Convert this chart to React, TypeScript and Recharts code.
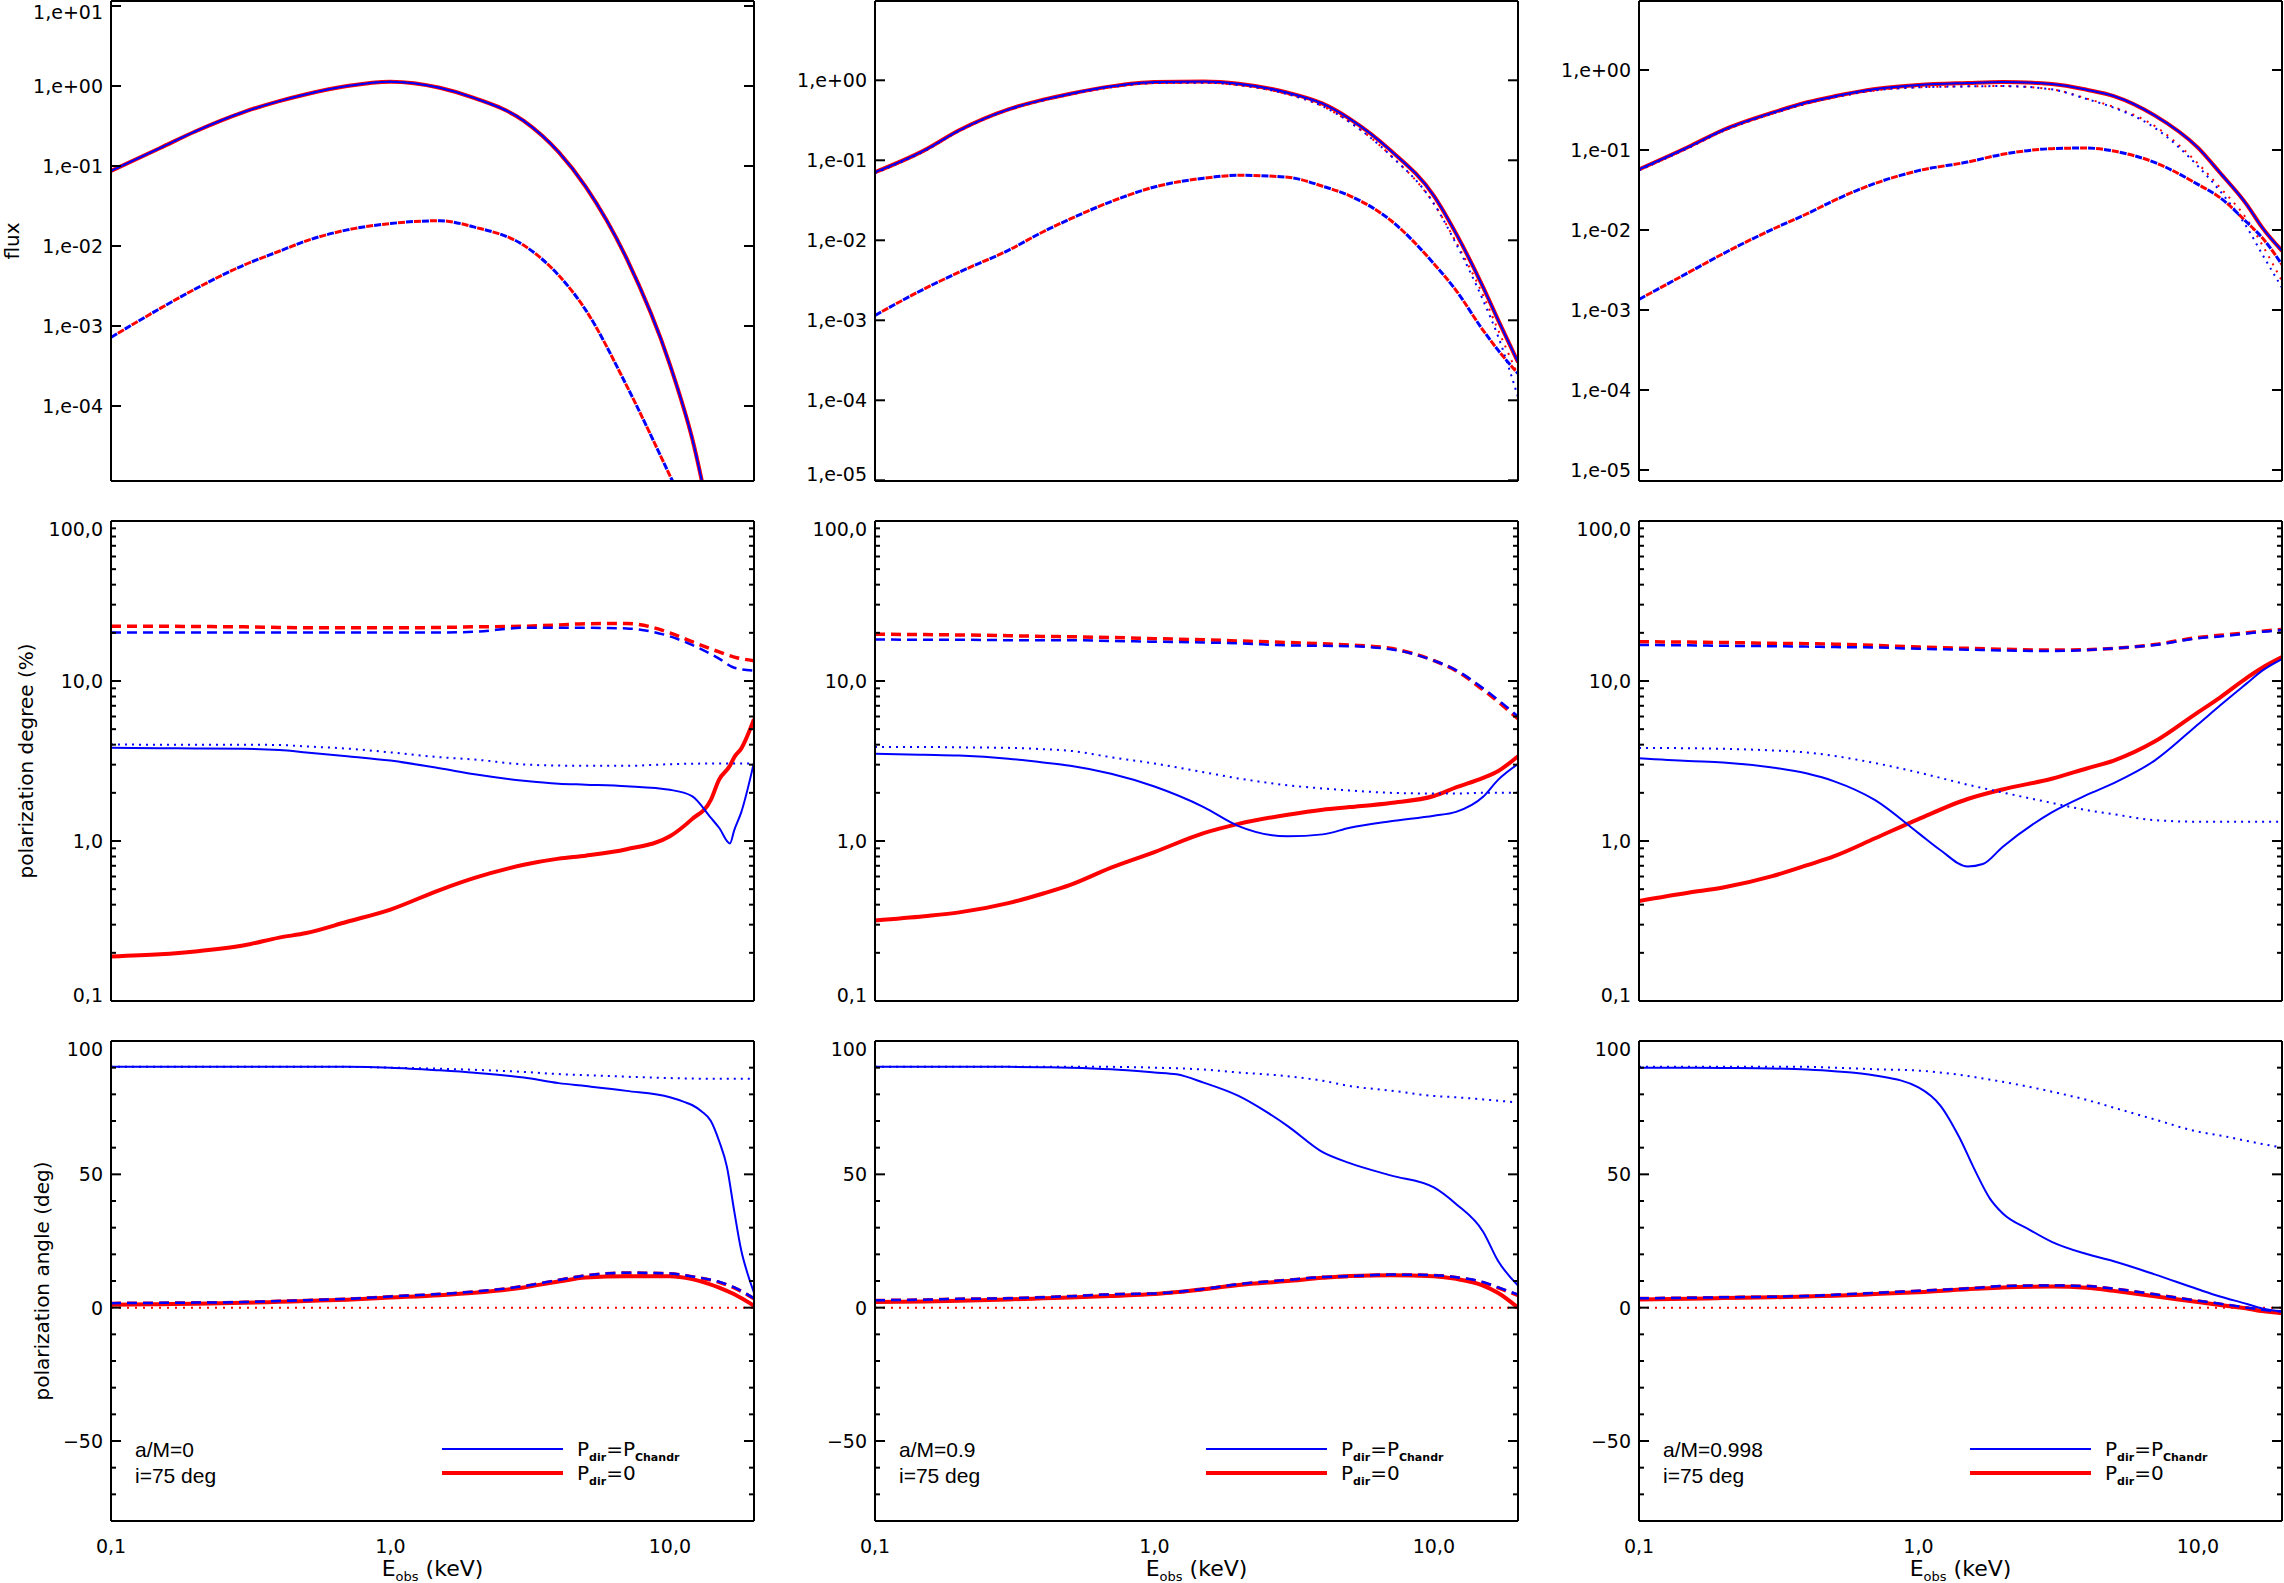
import React from 'react';
import { LineChart, Line, XAxis, YAxis, Legend } from 'recharts';

const FONT = '"DejaVu Sans", Verdana, sans-serif';
const SANS = '"Liberation Sans", Arial, Helvetica, sans-serif';
const BLUE = '#0000ff';
const RED = '#ff0000';

// ---------- energy grids (keV) ----------
const E_BASE = [0.1, 0.15, 0.2, 0.3, 0.4, 0.5, 0.7, 1, 1.5, 2, 3, 4, 5, 7, 10, 12, 15, 17, 20];
const E_PD1 = [0.1, 0.15, 0.2, 0.3, 0.4, 0.5, 0.7, 1, 1.5, 2, 3, 4, 5, 7, 10, 12, 14, 15, 16.4, 17, 18, 20];
const E_PD3 = [0.1, 0.15, 0.2, 0.3, 0.4, 0.5, 0.7, 1, 1.2, 1.5, 1.7, 2, 3, 4, 5, 7, 10, 12, 15, 17, 20];
const E_PA1 = [0.1, 0.15, 0.2, 0.3, 0.4, 0.5, 0.7, 1, 1.5, 2, 3, 4, 5, 7, 10, 11.3, 12, 13, 14, 15, 16, 17, 18, 19, 20];
const E_PA2 = [0.1, 0.15, 0.2, 0.3, 0.4, 0.5, 0.7, 1, 1.2, 1.5, 2, 2.5, 3, 4, 5, 7, 10, 12, 15, 17, 20];
const E_PA3 = [0.1, 0.15, 0.2, 0.3, 0.4, 0.5, 0.7, 1, 1.2, 1.4, 1.6, 1.8, 2, 2.5, 3, 4, 5, 7, 10, 12, 15, 17, 20];

// ---------- flux ----------
const FLUX1_TOTAL = [0.087, 0.168, 0.27, 0.476, 0.647, 0.79, 1.0, 1.13, 0.95, 0.705, 0.367, 0.149, 0.055, 7.0e-3, 3.3e-4, 4.0e-5, 1e-6, 1e-7, 1e-8];
const FLUX1_REFL = [7.2e-4, 1.66e-3, 2.9e-3, 5.8e-3, 8.6e-3, 0.0116, 0.0159, 0.0191, 0.0207, 0.0172, 0.0102, 4.3e-3, 1.58e-3, 1.8e-4, 1.35e-5, 3.5e-6, 1e-7, 1e-8, 1e-9];

const FLUX2_TOTAL = [0.071, 0.133, 0.237, 0.433, 0.573, 0.68, 0.84, 0.953, 0.968, 0.906, 0.70, 0.51, 0.33, 0.133, 0.036, 0.0122, 2.6e-3, 1.0e-3, 3.0e-4];
const FLUX2_DIRECT_P = [0.069, 0.13, 0.232, 0.425, 0.56, 0.665, 0.82, 0.925, 0.935, 0.87, 0.67, 0.474, 0.30, 0.115, 0.0287, 9.1e-3, 1.78e-3, 6.2e-4, 1.1e-4];
const FLUX2_DIRECT_Z = [0.069, 0.13, 0.232, 0.425, 0.56, 0.665, 0.82, 0.925, 0.935, 0.87, 0.67, 0.474, 0.30, 0.115, 0.0287, 9.5e-3, 2.06e-3, 7.5e-4, 2.06e-4];
const FLUX2_REFL = [1.15e-3, 2.47e-3, 4.0e-3, 7.5e-3, 0.0128, 0.0185, 0.0305, 0.0464, 0.0597, 0.0649, 0.0614, 0.0474, 0.036, 0.0178, 5.1e-3, 2.37e-3, 7.5e-4, 4.2e-4, 2.16e-4];

const FLUX3_TOTAL = [0.0573, 0.109, 0.178, 0.293, 0.395, 0.469, 0.579, 0.65, 0.688, 0.708, 0.668, 0.567, 0.473, 0.271, 0.107, 0.052, 0.0205, 0.0107, 5.5e-3];
const FLUX3_DIRECT_P = [0.0556, 0.106, 0.173, 0.284, 0.383, 0.455, 0.557, 0.607, 0.625, 0.63, 0.573, 0.434, 0.338, 0.19, 0.063, 0.0307, 0.0107, 4.97e-3, 1.9e-3];
const FLUX3_DIRECT_Z = [0.0556, 0.106, 0.173, 0.284, 0.383, 0.455, 0.557, 0.607, 0.625, 0.63, 0.573, 0.44, 0.345, 0.2, 0.068, 0.034, 0.0135, 6.5e-3, 2.3e-3];
const FLUX3_REFL = [1.36e-3, 2.93e-3, 5.06e-3, 0.0102, 0.016, 0.0235, 0.0383, 0.0552, 0.0708, 0.0883, 0.104, 0.106, 0.097, 0.070, 0.0372, 0.0254, 0.0124, 8.0e-3, 3.7e-3];

// ---------- polarization degree (%) ----------
const PD1_REFL_Z = [22.0, 22.0, 21.9, 21.8, 21.6, 21.5, 21.5, 21.5, 21.6, 21.8, 22.0, 22.4, 22.8, 22.9, 20.0, 17.6, null, 15.2, null, 14.1, null, 13.4];
const PD1_REFL_P = [20.1, 20.1, 20.1, 20.1, 20.1, 20.1, 20.1, 20.1, 20.1, 20.3, 21.5, 21.5, 21.5, 21.3, 19.0, 16.8, null, 13.8, null, 12.1, null, 11.6];
const PD1_TOTAL_P = [3.82, 3.80, 3.79, 3.77, 3.70, 3.58, 3.39, 3.18, 2.85, 2.61, 2.38, 2.28, 2.25, 2.20, 2.09, 1.91, 1.40, 1.21, 0.966, 1.17, 1.51, 3.1];
const PD1_DIRECT_P = [4.01, 4.0, 4.0, 4.0, 3.98, 3.9, 3.78, 3.58, 3.34, 3.23, 3.01, 2.96, 2.95, 2.95, 3.02, null, null, 3.05, null, null, null, 3.05];
const PD1_TOTAL_Z = [0.19, 0.196, 0.204, 0.223, 0.249, 0.266, 0.313, 0.373, 0.494, 0.588, 0.71, 0.776, 0.81, 0.888, 1.07, 1.37, 1.8, 2.42, 2.95, 3.34, 3.78, 5.77];

const PD2_REFL_Z = [19.6, 19.5, 19.4, 19.2, 19.0, 18.9, 18.7, 18.4, 18.1, 17.8, 17.4, 17.1, 16.8, 16.0, 13.4, 11.6, 8.8, 7.4, 5.8];
const PD2_REFL_P = [18.2, 18.1, 18.1, 18.0, 18.0, 18.0, 17.8, 17.6, 17.4, 17.2, 16.7, 16.6, 16.5, 15.8, 13.4, 11.7, 9.0, 7.6, 6.0];
const PD2_TOTAL_P = [3.51, 3.46, 3.42, 3.27, 3.10, 2.95, 2.63, 2.19, 1.63, 1.24, 1.07, 1.10, 1.21, 1.33, 1.44, 1.52, 1.89, 2.42, 3.03];
const PD2_DIRECT_P = [3.87, 3.87, 3.85, 3.82, 3.75, 3.66, 3.34, 3.05, 2.69, 2.46, 2.23, 2.13, 2.07, 2.0, 1.98, 1.98, 2.0, 2.0, 2.0];
const PD2_TOTAL_Z = [0.319, 0.339, 0.358, 0.409, 0.47, 0.532, 0.682, 0.853, 1.12, 1.28, 1.46, 1.57, 1.63, 1.73, 1.91, 2.16, 2.48, 2.74, 3.39];

const PD3_REFL_Z = [17.6, 17.5, 17.4, 17.2, 17.1, 17.0, 16.7, 16.3, null, 16.0, null, 15.8, 15.6, 15.7, 16.0, 16.9, 18.7, 19.3, 20.0, 20.5, 21.0];
const PD3_REFL_P = [16.8, 16.7, 16.6, 16.5, 16.4, 16.3, 16.2, 15.9, null, 15.7, null, 15.5, 15.4, 15.6, 16.0, 16.8, 18.5, 19.0, 19.8, 20.3, 20.8];
const PD3_TOTAL_P = [3.29, 3.16, 3.10, 2.88, 2.64, 2.36, 1.80, 1.12, 0.875, 0.693, 0.718, 0.918, 1.51, 1.94, 2.30, 3.18, 5.35, 7.03, 9.7, 11.6, 13.7];
const PD3_DIRECT_P = [3.82, 3.80, 3.77, 3.68, 3.57, 3.40, 3.07, 2.68, null, 2.25, null, 2.01, 1.73, 1.56, 1.47, 1.35, 1.32, 1.32, 1.32, 1.32, 1.32];
const PD3_TOTAL_Z = [0.422, 0.475, 0.512, 0.603, 0.706, 0.804, 1.04, 1.37, null, 1.83, null, 2.10, 2.45, 2.84, 3.18, 4.18, 6.37, 7.88, 10.5, 12.1, 14.1];

// ---------- polarization angle (deg) ----------
const PA1_TOTAL_P = [90.3, 90.3, 90.3, 90.3, 90.3, 90.3, 90.3, 90.0, 89.0, 88.1, 86.3, 84.2, 83.1, 81.3, 78.9, 77.1, 76.0, 73.6, 70.1, 62.5, 52.8, 36.1, 21.5, 12.5, 5.6];
const PA1_DIRECT_P = [90.3, 90.3, 90.3, 90.3, 90.3, 90.3, 90.3, 90.0, 89.6, 89.2, 88.4, 87.6, 87.2, 86.6, 86.1, null, null, null, null, 85.8, null, null, null, null, 85.8];
const PA1_REFL_P = [1.7, 1.8, 1.9, 2.1, 2.5, 2.8, 3.3, 4.2, 5.1, 6.0, 8.1, 10.4, 12.1, 13.1, 12.8, null, 11.7, null, null, 9.7, null, 7.6, null, null, 3.5];
const PA1_REFL_Z = [1.6, 1.7, 1.8, 2.0, 2.4, 2.7, 3.2, 4.1, 5.0, 5.9, 8.0, 10.3, 12.0, 13.0, 12.7, null, 11.6, null, null, 9.5, null, 7.4, null, null, 3.3];
const PA1_TOTAL_Z = [1.1, 1.3, 1.5, 1.8, 2.2, 2.5, 3.0, 3.8, 4.7, 5.6, 7.6, 9.8, 11.3, 11.8, 11.8, null, 10.7, null, null, 7.5, null, 5.0, null, null, 0.7];
const PA1_DIRECT_Z = [0, 0, 0, 0, 0, 0, 0, 0, 0, 0, 0, 0, 0, 0, 0, 0, 0, 0, 0, 0, 0, 0, 0, 0, 0];

const PA2_TOTAL_P = [90.3, 90.3, 90.3, 90.3, 90.2, 90.0, 89.4, 88.2, 87.5, 84.4, 79.4, 73.6, 68.1, 58.3, 54.2, 49.6, 45.1, 38.9, 28.5, 17.4, 8.3];
const PA2_DIRECT_P = [90.3, 90.3, 90.3, 90.3, 90.3, 90.3, 90.3, 90.0, null, 89.3, 88.2, null, 86.8, 85.1, 83.1, 81.4, 79.4, 78.9, 78.1, 77.6, 76.9];
const PA2_REFL_P = [2.8, 3.0, 3.3, 3.5, 3.9, 4.3, 5.0, 5.3, null, 7.0, 8.8, null, 10.4, 11.5, 11.8, 12.4, 12.2, 11.4, 9.6, 7.6, 4.9];
const PA2_REFL_Z = [2.7, 2.9, 3.2, 3.4, 3.8, 4.2, 4.9, 5.2, null, 6.9, 8.7, null, 10.3, 11.4, 11.7, 12.3, 12.1, 11.3, 9.4, 7.4, 4.6];
const PA2_TOTAL_Z = [2.1, 2.3, 2.6, 3.1, 3.5, 3.8, 4.4, 5.1, null, 6.9, 8.5, null, 10.0, 11.2, 11.9, 12.2, 11.8, 10.8, 8.3, 5.5, 0.0];
const PA2_DIRECT_Z = [0, 0, 0, 0, 0, 0, 0, 0, 0, 0, 0, 0, 0, 0, 0, 0, 0, 0, 0, 0, 0];

const PA3_TOTAL_P = [90.0, 90.0, 89.9, 89.7, 89.3, 88.7, 87.1, 82.6, 75.7, 63.9, 51.1, 41.0, 35.4, 29.2, 24.7, 20.1, 17.4, 12.5, 6.9, 4.2, 1.4, -0.3, -1.4];
const PA3_DIRECT_P = [90.3, 90.3, 90.3, 90.3, 90.3, 90.0, 89.4, 88.9, null, null, null, null, 84.7, null, 81.0, 77.9, 75.0, 70.6, 66.0, 64.6, 62.5, 61.4, 60.0];
const PA3_REFL_P = [3.5, 3.7, 3.9, 4.1, 4.4, 4.8, 5.5, 6.3, null, null, 7.4, null, 8.1, null, 8.3, 8.1, 7.1, 5.0, 2.6, 1.5, 0.0, -0.8, -1.4];
const PA3_REFL_Z = [3.4, 3.6, 3.8, 4.0, 4.3, 4.7, 5.4, 6.2, null, null, 7.3, null, 8.0, null, 8.2, 8.0, 7.0, 4.9, 2.5, 1.3, -0.2, -1.0, -1.7];
const PA3_TOTAL_Z = [3.1, 3.3, 3.6, 3.9, 4.2, 4.5, 5.1, 5.8, null, null, 7.1, null, 7.6, null, 7.9, 7.5, 6.3, 4.3, 2.1, 1.0, -0.3, -1.3, -2.1];
const PA3_DIRECT_Z = [0, 0, 0, 0, 0, 0, 0, 0, 0, 0, 0, 0, 0, 0, 0, 0, 0, 0, 0, 0, 0, 0, 0];

// ---------- ticks & labels ----------
const X_TICKS = [0.1, 0.2, 0.3, 0.4, 0.5, 0.6, 0.7, 0.8, 0.9, 1, 2, 3, 4, 5, 6, 7, 8, 9, 10];
const X_MAJOR = [0.1, 1, 10];
const X_LABELS = ['0,1', '1,0', '10,0'];

const FLUX_MAJOR = [1e-5, 1e-4, 1e-3, 1e-2, 1e-1, 1, 10];
const FLUX_LABELS = ['1,e-05', '1,e-04', '1,e-03', '1,e-02', '1,e-01', '1,e+00', '1,e+01'];

const PD_MAJOR = [0.1, 1, 10, 100];
const PD_LABELS = ['0,1', '1,0', '10,0', '100,0'];
const PD_MINOR = [0.2, 0.3, 0.4, 0.5, 0.6, 0.7, 0.8, 0.9, 2, 3, 4, 5, 6, 7, 8, 9, 20, 30, 40, 50, 60, 70, 80, 90];

const PA_MAJOR = [-50, 0, 50, 100];
const PA_LABELS = ['\u221250', '0', '50', '100'];
const PA_MINOR = [-70, -60, -40, -30, -20, -10, 10, 20, 30, 40, 60, 70, 80, 90];

const SPIN_LABELS = ['a/M=0', 'a/M=0.9', 'a/M=0.998'];
const INCL_LABEL = 'i=75 deg';
const Y_TITLES = ['flux', 'polarization degree (%)', 'polarization angle (deg)'];
const Y_TITLE_X = [12, 26, 42];

// ---------- layout ----------
const COL_LEFT = [111, 875, 1639];
const ROW_TOP = [1, 521, 1041];
const PW = 643;
const PH = 480;
const YW = 111;

const ROLES = ['reflZ', 'directZ', 'totalZ', 'reflP', 'directP', 'totalP'];
const STYLES: Record<string, any> = {
  reflZ: { stroke: RED, width: 3.5, dash: '10 6' },
  directZ: { stroke: RED, width: 2, dash: '2 6' },
  totalZ: { stroke: RED, width: 4 },
  reflP: { stroke: BLUE, width: 2.5, dash: '10 6' },
  directP: { stroke: BLUE, width: 2, dash: '2 5' },
  totalP: { stroke: BLUE, width: 2 },
};
// in the flux panels the two reflected curves coincide: their dashes interleave
const FLUX_STYLE_OVERRIDE: Record<string, any> = {
  reflZ: { stroke: RED, width: 3, dash: '7 9', offset: 8 },
  reflP: { stroke: BLUE, width: 3, dash: '7 9' },
};

const PANELS: any[][] = [
  [
    { kind: 'flux', E: E_BASE, domain: [1.155e-5, 11.55], s: { reflZ: FLUX1_REFL, directZ: FLUX1_TOTAL, totalZ: FLUX1_TOTAL, reflP: FLUX1_REFL, directP: FLUX1_TOTAL, totalP: FLUX1_TOTAL } },
    { kind: 'flux', E: E_BASE, domain: [0.98e-5, 9.8], s: { reflZ: FLUX2_REFL, directZ: FLUX2_DIRECT_Z, totalZ: FLUX2_TOTAL, reflP: FLUX2_REFL, directP: FLUX2_DIRECT_P, totalP: FLUX2_TOTAL } },
    { kind: 'flux', E: E_BASE, domain: [0.729e-5, 7.29], s: { reflZ: FLUX3_REFL, directZ: FLUX3_DIRECT_Z, totalZ: FLUX3_TOTAL, reflP: FLUX3_REFL, directP: FLUX3_DIRECT_P, totalP: FLUX3_TOTAL } },
  ],
  [
    { kind: 'pd', E: E_PD1, domain: [0.1, 100], s: { reflZ: PD1_REFL_Z, totalZ: PD1_TOTAL_Z, reflP: PD1_REFL_P, directP: PD1_DIRECT_P, totalP: PD1_TOTAL_P } },
    { kind: 'pd', E: E_BASE, domain: [0.1, 100], s: { reflZ: PD2_REFL_Z, totalZ: PD2_TOTAL_Z, reflP: PD2_REFL_P, directP: PD2_DIRECT_P, totalP: PD2_TOTAL_P } },
    { kind: 'pd', E: E_PD3, domain: [0.1, 100], s: { reflZ: PD3_REFL_Z, totalZ: PD3_TOTAL_Z, reflP: PD3_REFL_P, directP: PD3_DIRECT_P, totalP: PD3_TOTAL_P } },
  ],
  [
    { kind: 'pa', E: E_PA1, domain: [-80, 100], s: { reflZ: PA1_REFL_Z, directZ: PA1_DIRECT_Z, totalZ: PA1_TOTAL_Z, reflP: PA1_REFL_P, directP: PA1_DIRECT_P, totalP: PA1_TOTAL_P } },
    { kind: 'pa', E: E_PA2, domain: [-80, 100], s: { reflZ: PA2_REFL_Z, directZ: PA2_DIRECT_Z, totalZ: PA2_TOTAL_Z, reflP: PA2_REFL_P, directP: PA2_DIRECT_P, totalP: PA2_TOTAL_P } },
    { kind: 'pa', E: E_PA3, domain: [-80, 100], s: { reflZ: PA3_REFL_Z, directZ: PA3_DIRECT_Z, totalZ: PA3_TOTAL_Z, reflP: PA3_REFL_P, directP: PA3_DIRECT_P, totalP: PA3_TOTAL_P } },
  ],
];

const isIn = (arr: number[], v: number) => arr.some((m) => Math.abs(m - v) <= Math.abs(m) * 1e-6 + 1e-9);

function makeTick(side: string, majors: number[]) {
  return (props: any) => {
    const { x, y, payload } = props;
    const len = isIn(majors, payload.value) ? 10 : 5;
    let x2 = x;
    let y2 = y;
    if (side === 'left') x2 = x + len;
    else if (side === 'right') x2 = x - len;
    else if (side === 'top') y2 = y + len;
    else y2 = y - len;
    return <line x1={x} y1={y} x2={x2} y2={y2} stroke="#000" strokeWidth={2} />;
  };
}

function makeFormatter(values: number[], labels: string[]) {
  return (v: number) => {
    const i = values.findIndex((m) => Math.abs(m - v) <= Math.abs(m) * 1e-6 + 1e-9);
    return i >= 0 ? labels[i] : '';
  };
}

// y tick labels: centred on the tick, kept inside the frame's height near its edges
function makeLabelTick(fmt: (v: number) => string, top: number, bottom: number) {
  return (props: any) => {
    const { x, y, payload } = props;
    let ty = y;
    if (Math.abs(y - top) < 1.5) ty = y + 8;
    else if (Math.abs(y - bottom) < 3) ty = y - 6;
    if (ty < 12) ty = 12;
    return (
      <text x={x} y={ty} textAnchor="end" dominantBaseline="central" fontFamily={FONT} fontSize={19} fill="#000">
        {fmt(payload.value)}
      </text>
    );
  };
}

const VTitle = (props: any) => {
  const { text, cx, cy } = props;
  return (
    <text x={cx} y={cy} transform={`rotate(-90 ${cx} ${cy})`} textAnchor="middle" dominantBaseline="central" fontFamily={FONT} fontSize={20} fill="#000">
      {text}
    </text>
  );
};

const XTitle = (props: any) => {
  const { cx, by } = props;
  return (
    <text x={cx} y={by} textAnchor="middle" fontFamily={FONT} fontSize={22} fill="#000">
      E<tspan fontSize={13} dy={5}>obs</tspan>
      <tspan dy={-5}>{'\u00a0(keV)'}</tspan>
    </text>
  );
};

const LegendArt = ({ spin, W, H }: any) => (
  <svg width={W} height={H} style={{ position: 'absolute', left: 0, top: 0, overflow: 'visible' }}>
    <text x={135} y={424} fontFamily={SANS} fontSize={21} fill="#000">{spin}</text>
    <text x={135} y={450} fontFamily={SANS} fontSize={21} fill="#000">{INCL_LABEL}</text>
    <line x1={442} y1={416} x2={563} y2={416} stroke={BLUE} strokeWidth={2} />
    <line x1={442} y1={440} x2={563} y2={440} stroke={RED} strokeWidth={4} />
    <text x={577} y={423} fontFamily={FONT} fontSize={20} fill="#000">
      P<tspan fontSize={11} fontWeight="bold" dy={5}>dir</tspan>
      <tspan dy={-5}>=P</tspan>
      <tspan fontSize={11} fontWeight="bold" dy={5}>Chandr</tspan>
    </text>
    <text x={577} y={447} fontFamily={FONT} fontSize={20} fill="#000">
      P<tspan fontSize={11} fontWeight="bold" dy={5}>dir</tspan>
      <tspan dy={-5}>=0</tspan>
    </text>
  </svg>
);

function Panel({ def, row, col }: any) {
  const mt = row === 0 ? 1 : 8;
  const mb = row === 2 ? 0 : 16;
  const xh = row === 2 ? 62 : 0;
  const W = YW + PW + 2;
  const H = mt + PH + mb + xh;
  const isLog = def.kind !== 'pa';
  const [lo, hi] = def.domain;
  const inDom = (t: number) => t >= lo * (1 - 1e-9) && t <= hi * (1 + 1e-9);

  let majors: number[];
  let labels: string[];
  let minors: number[];
  if (def.kind === 'flux') {
    majors = FLUX_MAJOR; labels = FLUX_LABELS; minors = [];
  } else if (def.kind === 'pd') {
    majors = PD_MAJOR; labels = PD_LABELS; minors = PD_MINOR;
  } else {
    majors = PA_MAJOR; labels = PA_LABELS; minors = PA_MINOR;
  }
  const yMajors = majors.filter(inDom);
  const yAll = [...majors, ...minors].filter(inDom).sort((a, b) => a - b);
  const fmtY = makeFormatter(majors, labels);

  const data = def.E.map((e: number, i: number) => {
    const o: any = { E: e };
    ROLES.forEach((r) => {
      const arr = def.s[r];
      o[r] = arr ? arr[i] : null;
    });
    return o;
  });

  const yScale = isLog ? 'log' : 'linear';
  const axisLine = { stroke: '#000', strokeWidth: 2 };

  return (
    <div style={{ position: 'absolute', left: COL_LEFT[col] - YW, top: ROW_TOP[row] - mt }}>
      <LineChart width={W} height={H} data={data} margin={{ top: mt, right: 2, bottom: mb, left: 0 }}>
        <XAxis
          xAxisId="x"
          dataKey="E"
          type="number"
          scale="log"
          domain={[0.1, 20]}
          allowDataOverflow
          hide={row !== 2}
          height={xh || 30}
          ticks={X_MAJOR}
          interval={0}
          tickFormatter={makeFormatter(X_MAJOR, X_LABELS)}
          tickLine={false}
          axisLine={false}
          tickSize={0}
          tickMargin={19}
          tick={{ fill: '#000', fontSize: 19, fontFamily: FONT }}
          label={row === 2 ? <XTitle cx={YW + PW / 2} by={543} /> : undefined}
        />
        <XAxis xAxisId="xb" orientation="bottom" mirror type="number" scale="log" domain={[0.1, 20]} allowDataOverflow height={1}
          ticks={X_TICKS} interval={0} tickSize={0} tickMargin={0} tickLine={false} axisLine={axisLine} tick={makeTick('bottom', X_MAJOR)} />
        <XAxis xAxisId="xt" orientation="top" mirror type="number" scale="log" domain={[0.1, 20]} allowDataOverflow height={1}
          ticks={X_TICKS} interval={0} tickSize={0} tickMargin={0} tickLine={false} axisLine={axisLine} tick={makeTick('top', X_MAJOR)} />
        <YAxis
          yAxisId="y"
          type="number"
          scale={yScale}
          domain={[lo, hi]}
          allowDataOverflow
          width={YW}
          ticks={yMajors}
          interval={0}
          tickFormatter={fmtY}
          tickLine={false}
          axisLine={false}
          tickSize={0}
          tickMargin={8}
          tick={makeLabelTick(fmtY, mt, mt + PH)}
          label={col === 0 ? <VTitle text={Y_TITLES[row]} cx={Y_TITLE_X[row]} cy={mt + PH / 2} /> : undefined}
        />
        <YAxis yAxisId="yl" orientation="left" mirror type="number" scale={yScale} domain={[lo, hi]} allowDataOverflow width={1}
          ticks={yAll} interval={0} tickSize={0} tickMargin={0} tickLine={false} axisLine={axisLine} tick={makeTick('left', majors)} />
        <YAxis yAxisId="yr" orientation="right" mirror type="number" scale={yScale} domain={[lo, hi]} allowDataOverflow width={1}
          ticks={yAll} interval={0} tickSize={0} tickMargin={0} tickLine={false} axisLine={axisLine} tick={makeTick('right', majors)} />
        {ROLES.filter((r) => def.s[r]).map((r) => {
          const st = def.kind === 'flux' && FLUX_STYLE_OVERRIDE[r] ? FLUX_STYLE_OVERRIDE[r] : STYLES[r];
          return (
            <Line
              key={r}
              xAxisId="x"
              yAxisId="y"
              dataKey={r}
              type="monotone"
              stroke={st.stroke}
              strokeWidth={st.width}
              strokeDasharray={st.dash}
              strokeDashoffset={st.offset}
              dot={false}
              activeDot={false}
              connectNulls
              isAnimationActive={false}
              legendType="none"
            />
          );
        })}
        {row === 2 && (
          <Legend
            layout="horizontal"
            verticalAlign="middle"
            align="center"
            wrapperStyle={{ left: 0, top: 0, width: W, height: H, pointerEvents: 'none' }}
            content={() => <LegendArt spin={SPIN_LABELS[col]} W={W} H={H} />}
          />
        )}
      </LineChart>
    </div>
  );
}

export default function App() {
  return (
    <div style={{ position: 'absolute', left: 0, top: 0, width: 2284, height: 1583, background: '#fff', overflow: 'hidden' }}>
      {PANELS.map((rowDefs, r) =>
        rowDefs.map((def, c) => <Panel key={`${r}-${c}`} def={def} row={r} col={c} />)
      )}
    </div>
  );
}
